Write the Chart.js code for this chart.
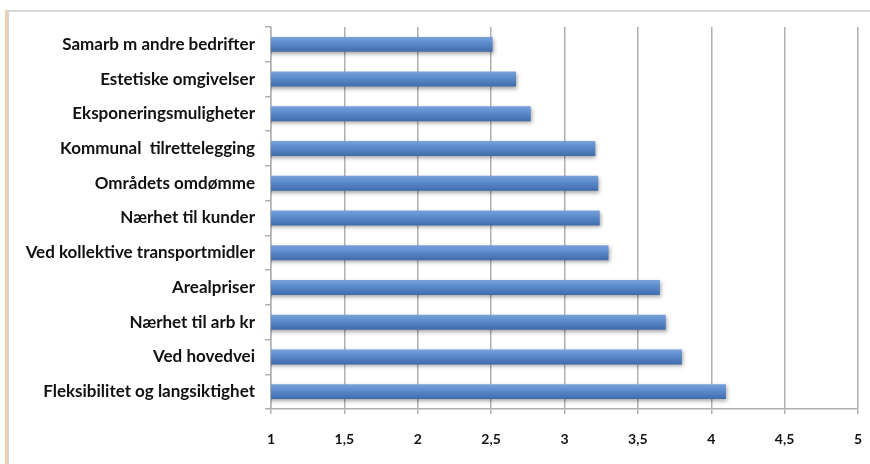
<!DOCTYPE html>
<html>
<head>
<meta charset="utf-8">
<script src="https://cdn.jsdelivr.net/npm/chart.js@4/dist/chart.umd.min.js"></script>
<style>
  html, body { margin: 0; padding: 0; background: #ffffff; }
  #wrap { position: relative; width: 870px; height: 464px; overflow: hidden; }
  #edge { position: absolute; left: 5px; top: 10px; width: 2px; height: 460px; background: #f5cda5; }
  #frame {
    position: absolute; left: 7px; top: 10px; width: 880px; height: 470px;
    border-top: 2px solid #d8d8d8; border-left: 2px solid #d4d4d4;
  }
  canvas { position: absolute; left: 0; top: 0; }
</style>
</head>
<body>
<div id="wrap">
  <div id="edge"></div>
  <div id="frame"></div>
  <canvas id="c" width="900" height="464"></canvas>
</div>
<script>
// Factors, listed from top to bottom as they appear on the chart
const categories = [
  'Samarb m andre bedrifter',
  'Estetiske omgivelser',
  'Eksponeringsmuligheter',
  'Kommunal  tilrettelegging',
  'Områdets omdømme',
  'Nærhet til kunder',
  'Ved kollektive transportmidler',
  'Arealpriser',
  'Nærhet til arb kr',
  'Ved hovedvei',
  'Fleksibilitet og langsiktighet'
];
// Mean score per factor
const scores = [2.51, 2.67, 2.77, 3.21, 3.23, 3.24, 3.30, 3.65, 3.69, 3.80, 4.10];
// Value axis ticks
const tickValues = [1, 1.5, 2, 2.5, 3, 3.5, 4, 4.5, 5];

// Plot frame inside the canvas
const plotBox = { left: 271, right: 858, top: 27, bottom: 413 };

const labelFont = { family: 'Lato, "Open Sans", sans-serif', weight: 'bold', size: 17 };

// Vertical gradient for each bar, lighter on top and darker below
function barFill(ctx) {
  const chart = ctx.chart;
  const y = chart.scales && chart.scales.y;
  if (!y || !chart.chartArea || ctx.type !== 'data') return '#4f81bd';
  const cy = y.getPixelForValue(ctx.dataIndex);
  const half = 8;
  const g = chart.ctx.createLinearGradient(0, cy - half, 0, cy + half);
  g.addColorStop(0, '#7aa3dc');
  g.addColorStop(0.45, '#5a8acb');
  g.addColorStop(1, '#3f69a8');
  return g;
}

// Soft drop shadow under the bars
const barShadow = {
  id: 'barShadow',
  beforeDatasetsDraw(chart) {
    const c = chart.ctx;
    c.save();
    c.shadowColor = 'rgba(0,0,0,0.35)';
    c.shadowBlur = 4;
    c.shadowOffsetX = 1;
    c.shadowOffsetY = 2;
  },
  afterDatasetsDraw(chart) {
    chart.ctx.restore();
  }
};

const chart = new Chart(document.getElementById('c'), {
  type: 'bar',
  data: {
    labels: categories,
    datasets: [{
      data: scores,
      backgroundColor: barFill,
      borderWidth: 0,
      barPercentage: 0.43,
      categoryPercentage: 1
    }]
  },
  options: {
    indexAxis: 'y',
    responsive: false,
    animation: false,
    devicePixelRatio: 1,
    layout: { padding: { left: 0, right: 12, top: 27, bottom: 0 } },
    plugins: {
      legend: { display: false },
      tooltip: { enabled: false }
    },
    scales: {
      x: {
        min: 1,
        max: 5,
        afterBuildTicks(axis) { axis.ticks = tickValues.map(v => ({ value: v })); },
        ticks: {
          color: '#111111',
          font: { family: 'Lato, "Open Sans", sans-serif', weight: 'bold', size: 14, lineHeight: 1 },
          padding: 18,
          maxRotation: 0,
          autoSkip: false,
          callback: v => String(v).replace('.', ',')
        },
        grid: {
          color: '#b0b0b0',
          lineWidth: 1.5,
          tickLength: 5,
          drawTicks: true
        },
        border: { color: '#b0b0b0', width: 1.5 }
      },
      y: {
        ticks: {
          color: '#111111',
          font: labelFont,
          padding: 10,
          autoSkip: false
        },
        grid: {
          drawOnChartArea: false,
          color: '#b0b0b0',
          lineWidth: 1.5,
          tickLength: 6
        },
        border: { color: '#b0b0b0', width: 1.5 }
      }
    }
  },
  plugins: [barShadow]
});

// Nudge the layout padding so the plot area lands on plotBox
for (let i = 0; i < 3; i++) {
  const a = chart.chartArea;
  const p = chart.options.layout.padding;
  p.left = Math.max(0, p.left + plotBox.left - a.left);
  p.right = Math.max(0, p.right + a.right - plotBox.right);
  p.top = Math.max(0, p.top + plotBox.top - a.top);
  p.bottom = Math.max(0, p.bottom + a.bottom - plotBox.bottom);
  chart.update();
}
</script>
</body>
</html>
